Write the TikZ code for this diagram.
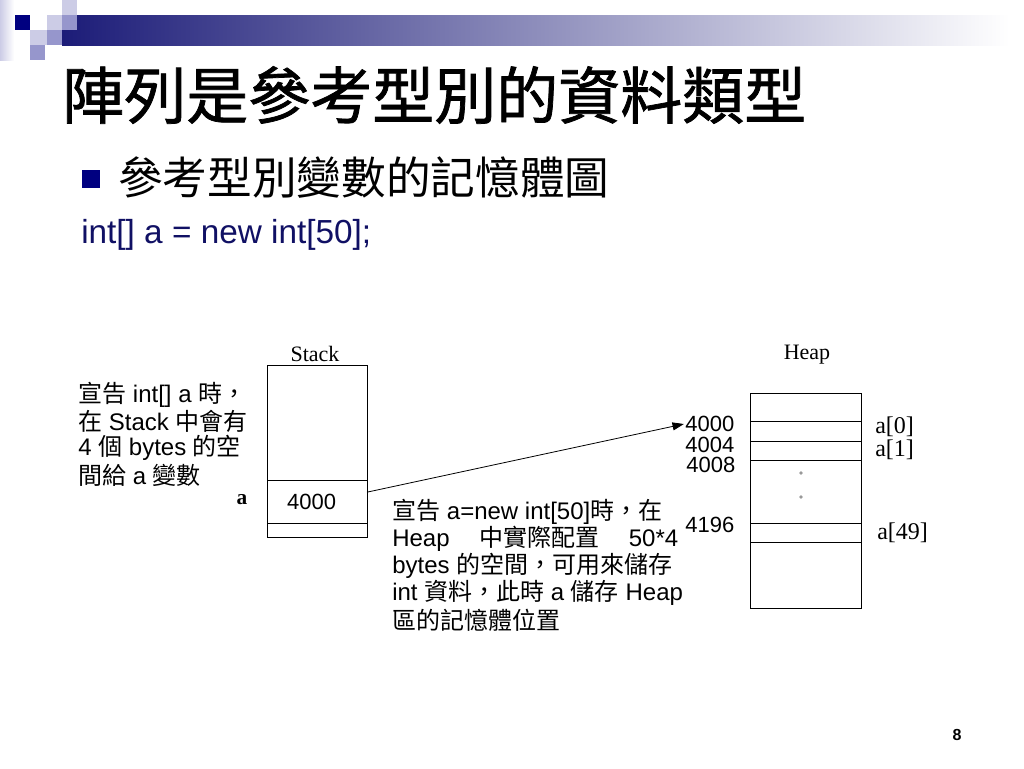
\documentclass[tikz,border=0pt]{standalone}
\usepackage{fontspec}
\setmainfont{Liberation Sans}
\newfontfamily\cjk{Noto Sans CJK TC}
\newfontfamily\cjktitle[FakeBold=1.2]{Noto Sans CJK TC}
\newfontfamily\tms{Liberation Serif}
\usetikzlibrary{arrows.meta}
\usetikzlibrary{positioning}

\definecolor{slidenavy}{RGB}{0,0,128}
\definecolor{barnavy}{RGB}{28,28,120}
\definecolor{barmid}{RGB}{150,150,185}
\definecolor{lightlav}{RGB}{204,204,230}
\definecolor{midlav}{RGB}{150,150,204}
\definecolor{textnavy}{RGB}{16,16,100}

\tikzset{
cellbox/.style={rectangle,draw=black,line width=0.6pt,inner sep=0pt,outer sep=0pt},
stackbox/.style={cellbox,minimum width=75pt},
heapbox/.style={cellbox,minimum width=83.25pt},
notetext/.style={anchor=west,inner sep=0pt,font=\fontsize{18}{20}\selectfont},
addr/.style={anchor=east,inner sep=1pt,font=\fontsize{16.5}{18}\selectfont},
idx/.style={anchor=west,inner sep=0pt,font=\tms\fontsize{18}{20}\selectfont},
}

\begin{document}
\begin{tikzpicture}[x=0.75pt,y=-0.75pt]
\useasboundingbox (0,0) rectangle (1024,768);
\fill[white] (0,0) rectangle (1024,768);

% title bar
\shade[left color=lightlav,right color=white] (0,0) rectangle (14,60);
\shade[left color=barnavy,middle color=barmid,right color=white] (62,15) rectangle (1010,45);
\fill[slidenavy] (15,15) rectangle (30,30);
\fill[lightlav] (62,0) rectangle (77,15);
\fill[lightlav] (47,15) rectangle (62,30);
\fill[midlav] (62,15) rectangle (77,30);
\fill[lightlav] (30,30) rectangle (47,45);
\fill[midlav] (47,30) rectangle (62,45);
\fill[midlav] (30,45) rectangle (45,60);

\node at (62,95)[anchor=west,inner sep=0pt,font=\cjktitle\fontsize{46.5}{50}\selectfont](title){陣列是參考型別的資料類型};
\node at (91,179)[rectangle,fill=slidenavy,minimum size=13.5pt,inner sep=0pt](bullet){};
\node at (118,178)[anchor=west,inner sep=0pt,font=\cjk\fontsize{33.5}{36}\selectfont](subtitle){參考型別變數的記憶體圖};
\node at (81,235)[anchor=west,inner sep=0pt,text=textnavy,font=\fontsize{25}{28}\selectfont](code){int[] a = new int[50];};

% stack
\node at (317,422.5)[stackbox,minimum height=86.25pt](stacktop){};
\node[stackbox,minimum height=32.25pt,below=0pt of stacktop](stackcell){};
\node[stackbox,minimum height=10.5pt,below=0pt of stackcell](stackbot){};
\node at (315,354)[font=\tms\fontsize{16.5}{18}\selectfont](stacklabel){Stack};
\node at ([xshift=-4pt]stackcell.center)[font=\fontsize{16.5}{18}\selectfont](stackval){4000};
\node at (242,500)[font=\tms\bfseries\fontsize{16}{18}\selectfont](avar){a};

% heap
\node at (805.5,407)[heapbox,minimum height=21pt](h0){};
\node[heapbox,minimum height=15pt,below=0pt of h0](h1){};
\node[heapbox,minimum height=14.25pt,below=0pt of h1](h2){};
\node[heapbox,minimum height=47.25pt,below=0pt of h2](h3){};
\node[heapbox,minimum height=14.25pt,below=0pt of h3](h4){};
\node[heapbox,minimum height=49.5pt,below=0pt of h4](h5){};
\node at (807,355)[font=\tms\fontsize{16.5}{18}\selectfont](heaplabel){Heap};
\fill[gray!80] (801,473) circle (1.4pt);
\fill[gray!80] (801,497) circle (1.4pt);

\node at (736,424)[addr](h4000){4000};
\node at (736,445)[addr](h4004){4004};
\node at (737,465)[addr](h4008){4008};
\node at (736,525)[addr](h4196){4196};
\node at (875,427)[idx](i0){a[0]};
\node at (875,450)[idx](i1){a[1]};
\node at (877,533)[idx](i49){a[49]};

\draw[line width=0.6pt,-{Triangle[length=8.5pt,width=6pt]}] ([yshift=7pt]stackcell.east) -- (h4000.west);

% notes
\node at (78,395)[notetext](n1){{\cjk 宣告} int[] a {\cjk 時，}};
\node at (78,421)[notetext](n2){{\cjk 在} Stack {\cjk 中會有}};
\node at (78,448)[notetext](n3){4 {\cjk 個} bytes {\cjk 的空}};
\node at (78,475)[notetext](n4){{\cjk 間給} a {\cjk 變數}};

\node at (392,512)[notetext](m1){{\cjk 宣告} a=new int[50]{\cjk 時，在}};
\node at (392,539)[notetext](m2){\hbox to 214.5pt{Heap\hfill{\cjk 中實際配置}\hfill 50*4}};
\node at (392,566)[notetext](m3){bytes {\cjk 的空間，可用來儲存}};
\node at (392,593)[notetext](m4){int {\cjk 資料，此時} a {\cjk 儲存} Heap};
\node at (392,620)[notetext](m5){\cjk 區的記憶體位置};

\node at (957,735)[font=\bfseries\fontsize{12}{14}\selectfont](pagenum){8};
\end{tikzpicture}
\end{document}
